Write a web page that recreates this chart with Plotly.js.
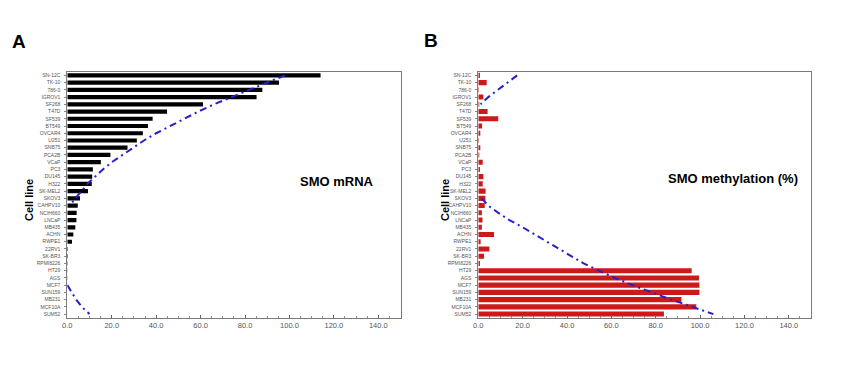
<!DOCTYPE html>
<html>
<head>
<meta charset="utf-8">
<script src="https://cdn.plot.ly/plotly-3.0.1.min.js"></script>
<style>html,body{margin:0;padding:0;background:#fff;}#chart{width:850px;height:368px;}</style>
</head>
<body>
<div id="chart"></div>
<script>
const cells = ["SN-12C","TK-10","786-0","IGROV1","SF268","T47D","SF539","BT549","OVCAR4","U251",
  "SNB75","PCA2B","VCaP","PC3","DU145","H322","SK-MEL2","SKOV3","CAHPV10","NCIH660",
  "LNCaP","MB435","ACHN","RWPE1","22RV1","SK-BR3","RPMI8226","HT29","AGS","MCF7",
  "SUN159","MB231","MCF10A","SUM52"];

const mrna = [114, 95.3, 87.8, 85.2, 61.1, 44.9, 38.4, 36.3, 34.0, 31.3,
  27.1, 19.4, 15.1, 11.5, 11.2, 11.0, 9.3, 5.7, 4.7, 4.2,
  4.1, 3.6, 2.7, 2.1, 0.3, 0.3, 0.2, 0.1, 0.1, 0.05,
  0, 0, 0, 0];

const methylation = [0.75, 3.8, 0.3, 2.3, 0.45, 4.2, 9.0, 1.7, 0.9, 0.3,
  0.9, 0.45, 2.0, 0.75, 2.3, 2.0, 3.3, 3.2, 2.9, 1.6,
  1.9, 1.6, 7.1, 1.05, 5.0, 2.6, 0.75, 96.2, 99.5, 99.7,
  99.7, 91.6, 98.3, 83.7];

// trend lines (null where the line is off the chart)
const mrnaTrend = [98, 90, 82, 74, 66, 59, 52.5, 46, 40, 34.5,
  29.5, 24.5, 20, 16, 12.5, 9, 6.5, 3.5, 1.2, null,
  null, null, null, null, null, null, null, null, null, 0,
  2, 4, 6.5, 10];

const methylTrend = [17.5, 13, 8.5, 4.5, 1, null, null, null, null, null,
  null, null, null, null, null, null, null, 1.5, 4.5, 9,
  14, 20, 25.5, 30.5, 36, 41.5, 47.5, 54.5, 61.5, 69.5,
  78, 87, 96.5, 106];

const xTickVals = [0, 20, 40, 60, 80, 100, 120, 140];
const xTickText = ["0.0", "20.0", "40.0", "60.0", "80.0", "100.0", "120.0", "140.0"];

const trendLine = {color: "#2420cc", width: 2, dash: "7px,4px,2px,4px"};

const traces = [
  {type: "bar", orientation: "h", x: mrna, y: cells, xaxis: "x", yaxis: "y",
   marker: {color: "#000000"}, width: 0.58, hoverinfo: "x+y"},
  {type: "scatter", mode: "lines", x: mrnaTrend, y: cells, xaxis: "x", yaxis: "y",
   line: trendLine, connectgaps: false},
  {type: "bar", orientation: "h", x: methylation, y: cells, xaxis: "x2", yaxis: "y2",
   marker: {color: "#cc1a1a"}, width: 0.7, hoverinfo: "x+y"},
  {type: "scatter", mode: "lines", x: methylTrend, y: cells, xaxis: "x2", yaxis: "y2",
   line: trendLine, connectgaps: false}
];

function xAx(domain, anchor) {
  return {
    domain: domain, anchor: anchor, range: [0, 150], fixedrange: true,
    tickvals: xTickVals, ticktext: xTickText,
    ticks: "inside", ticklen: 3, tickcolor: "#666",
    minor: {dtick: 5, tick0: 0, ticks: "inside", ticklen: 2, tickcolor: "#888"},
    showgrid: false, zeroline: false,
    showline: true, linecolor: "#7a7a7a", linewidth: 1, mirror: true,
    tickfont: {family: "Arial, Liberation Sans, sans-serif", size: 7.5, color: "#555"}
  };
}
function yAx(domain, anchor) {
  return {
    domain: domain, anchor: anchor, type: "category",
    range: [cells.length - 0.5, -0.5], autorange: false, fixedrange: true,
    ticks: "outside", ticklen: 2, tickcolor: "#888", ticklabelstandoff: 3,
    showgrid: false, zeroline: false,
    showline: true, linecolor: "#7a7a7a", linewidth: 1, mirror: true,
    tickfont: {family: "Arial, Liberation Sans, sans-serif", size: 5, color: "#555"}
  };
}

const yDom = [0.1367, 0.805];
const layout = {
  width: 850, height: 368,
  margin: {l: 0, r: 0, t: 0, b: 0},
  paper_bgcolor: "#ffffff", plot_bgcolor: "#ffffff",
  showlegend: false, bargap: 0.3,
  xaxis: xAx([0.0792, 0.4712], "y"),
  yaxis: yAx(yDom, "x"),
  xaxis2: xAx([0.5627, 0.9541], "y2"),
  yaxis2: yAx(yDom, "x2"),
  font: {family: "Arial, Liberation Sans, sans-serif"},
  annotations: [
    {text: "<b>A</b>", xref: "paper", yref: "paper", x: 18.5/850, y: 1 - 41.5/368,
     xanchor: "center", yanchor: "middle", showarrow: false, font: {size: 19, color: "#000"}},
    {text: "<b>B</b>", xref: "paper", yref: "paper", x: 431/850, y: 1 - 40.5/368,
     xanchor: "center", yanchor: "middle", showarrow: false, font: {size: 19, color: "#000"}},
    {text: "<b>Cell line</b>", xref: "paper", yref: "paper", x: 29/850, y: 1 - 200/368,
     xanchor: "center", yanchor: "middle", textangle: -90, showarrow: false, font: {size: 11, color: "#000"}},
    {text: "<b>Cell line</b>", xref: "paper", yref: "paper", x: 445/850, y: 1 - 200/368,
     xanchor: "center", yanchor: "middle", textangle: -90, showarrow: false, font: {size: 11, color: "#000"}},
    {text: "<b>SMO mRNA</b>", xref: "paper", yref: "paper", x: 337/850, y: 1 - 181/368,
     xanchor: "center", yanchor: "middle", showarrow: false, font: {size: 13, color: "#000"}},
    {text: "<b>SMO methylation (%)</b>", xref: "paper", yref: "paper", x: 733/850, y: 1 - 178/368,
     xanchor: "center", yanchor: "middle", showarrow: false, font: {size: 13, color: "#000"}}
  ]
};

Plotly.newPlot("chart", traces, layout, {staticPlot: true, displayModeBar: false});
</script>
</body>
</html>
